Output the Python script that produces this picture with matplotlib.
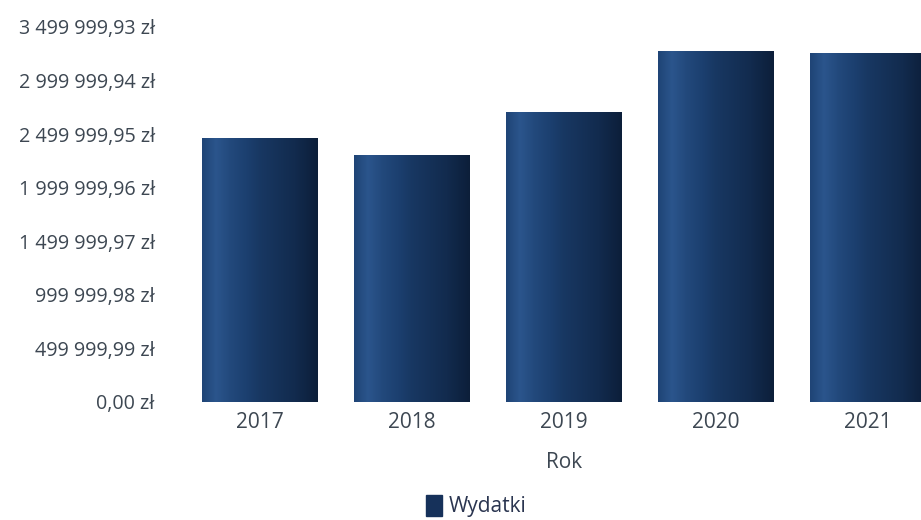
import matplotlib
matplotlib.use("Agg")
import matplotlib.pyplot as plt
import numpy as np

years = ["2017", "2018", "2019", "2020", "2021"]
wydatki = [2463000, 2305000, 2705000, 3274000, 3256000]
y_ticks = [0, 499999.99, 999999.98, 1499999.97, 1999999.96, 2499999.95, 2999999.94, 3499999.93]
series_name = "Wydatki"
x_title = "Rok"

plt.rcParams['font.family'] = ['Open Sans', 'DejaVu Sans']
txt = '#3d4752'

fig = plt.figure(figsize=(9.21, 5.20), dpi=100)
ax = fig.add_axes([184/921, 118/520, 760/921, 375/520])

x = np.arange(len(years))
bars = ax.bar(x, wydatki, width=0.76, color='#1b3b68', label=series_name, zorder=2)

# horizontal shading texture on each bar
grad = np.linspace(0, 1, 256)
shade = np.interp(grad, [0, 0.12, 0.25, 0.5, 0.8, 1.0], [0.55, 0.75, 0.6, 0.4, 0.25, 0.1])
base = np.array([0x1c, 0x40, 0x70]) / 255.0
light = np.array([0x3a, 0x6a, 0xa8]) / 255.0
dark = np.array([0x08, 0x16, 0x2c]) / 255.0
img = np.zeros((1, 256, 3))
for i, s in enumerate(shade):
    if s >= 0.5:
        t = (s - 0.5) / 0.5
        img[0, i] = base * (1 - t) + light * t
    else:
        t = (0.5 - s) / 0.5
        img[0, i] = base * (1 - t) + dark * t
for b in bars:
    im = ax.imshow(img, extent=[b.get_x(), b.get_x() + b.get_width(), 0, b.get_height()],
                   aspect='auto', zorder=3, interpolation='bilinear')
    im.set_clip_path(b)

ax.set_xlim(-0.5, len(years) - 0.5)
ax.set_ylim(0, y_ticks[-1])
ax.set_yticks(y_ticks)

def fmt(v):
    s = f"{v:,.2f}".replace(",", " ").replace(".", ",")
    return s + " zł"

ax.set_yticklabels([fmt(v) for v in y_ticks])
ax.set_xticks(x)
ax.set_xticklabels(years)
ax.tick_params(axis='y', length=0, pad=21, labelsize=14.2, labelcolor=txt)
ax.tick_params(axis='x', length=0, pad=7, labelsize=15, labelcolor=txt)
for sp in ax.spines.values():
    sp.set_visible(False)

ax.set_xlabel(x_title, fontsize=15, color=txt, labelpad=14)

leg = fig.legend(handles=[bars], labels=[series_name], loc='center', bbox_to_anchor=(476/921, 1 - 506/520),
                 frameon=False, fontsize=15, handlelength=0.8, handleheight=1.2, handletextpad=0.3,
                 labelcolor='#2a3550')
leg.legend_handles[0].set_color('#16315a')

fig.savefig("out.png", dpi=100)
